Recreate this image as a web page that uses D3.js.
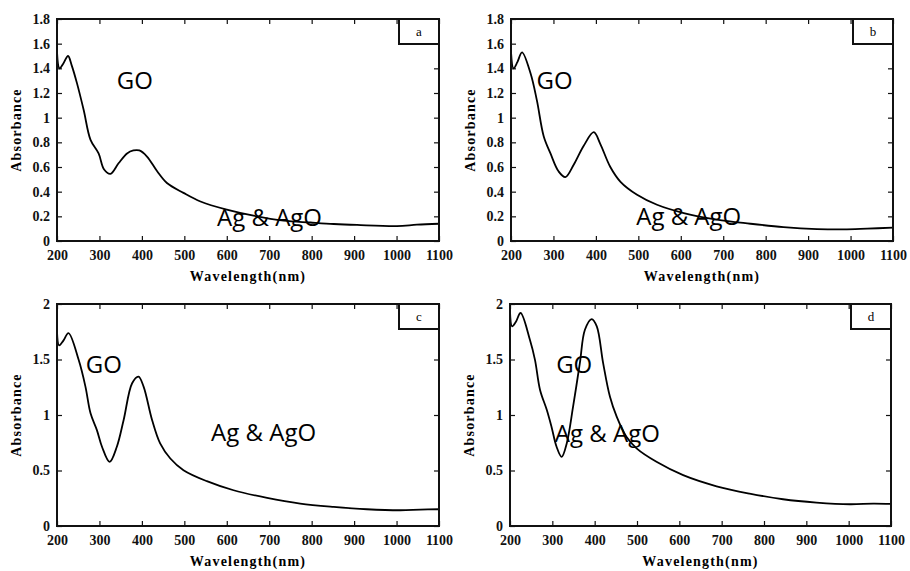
<!DOCTYPE html>
<html>
<head>
<meta charset="utf-8">
<script src="https://cdn.jsdelivr.net/npm/d3@7"></script>
<style>
  body { margin: 0; background: #fff; }
  svg { display: block; }
</style>
</head>
<body>
<div id="chart"></div>
<script>
// x axis ticks shared by all four panels
const xTicks = [200, 300, 400, 500, 600, 700, 800, 900, 1000, 1100];
const yTicksAB = [0, 0.2, 0.4, 0.6, 0.8, 1, 1.2, 1.4, 1.6, 1.8];
const yTicksCD = [0, 0.5, 1, 1.5, 2];

// spectra (wavelength nm, absorbance)
const waveA = [200, 206, 215, 226, 235, 247, 263, 279, 298, 311, 326, 345, 365, 380, 394, 412, 436, 459, 498, 538, 600, 663, 734, 797, 852, 907, 1001, 1048, 1100];
const absA  = [1.535, 1.40, 1.44, 1.50, 1.42, 1.28, 1.06, 0.82, 0.71, 0.58, 0.545, 0.63, 0.71, 0.734, 0.734, 0.685, 0.565, 0.47, 0.39, 0.32, 0.254, 0.205, 0.165, 0.15, 0.138, 0.13, 0.121, 0.132, 0.14];

const waveB = [200, 206, 215, 226, 246, 261, 277, 293, 312, 328, 348, 371, 395, 410, 434, 458, 497, 544, 607, 685, 764, 842, 921, 984, 1039, 1100];
const absB  = [1.535, 1.40, 1.45, 1.53, 1.36, 1.14, 0.85, 0.71, 0.565, 0.518, 0.62, 0.77, 0.882, 0.79, 0.60, 0.48, 0.375, 0.294, 0.227, 0.173, 0.14, 0.113, 0.097, 0.094, 0.10, 0.108];

const waveC = [200, 205, 215, 227, 251, 267, 279, 294, 306, 324, 341, 357, 377, 392, 404, 424, 443, 467, 498, 553, 616, 695, 773, 852, 930, 1009, 1056, 1100];
const absC  = [1.753, 1.627, 1.67, 1.738, 1.497, 1.256, 1.015, 0.864, 0.714, 0.578, 0.714, 0.955, 1.286, 1.346, 1.256, 0.955, 0.744, 0.608, 0.503, 0.404, 0.322, 0.253, 0.202, 0.172, 0.151, 0.142, 0.148, 0.151];

const waveD = [200, 205, 214, 225, 247, 259, 271, 287, 298, 310, 322, 334, 349, 365, 377, 393, 405, 420, 436, 452, 475, 499, 546, 609, 688, 766, 845, 924, 1003, 1058, 1100];
const absD  = [1.934, 1.798, 1.84, 1.919, 1.678, 1.497, 1.226, 1.045, 0.895, 0.714, 0.623, 0.744, 1.075, 1.467, 1.768, 1.864, 1.798, 1.467, 1.166, 0.985, 0.804, 0.699, 0.578, 0.458, 0.358, 0.292, 0.241, 0.211, 0.196, 0.202, 0.199];

// annotation text anchors in data units (left edge, baseline)
const notesA = [{ text: "GO", w: 341, a: 1.233 }, { text: "Ag & AgO", w: 577, a: 0.124 }];
const notesB = [{ text: "GO", w: 260, a: 1.233 }, { text: "Ag & AgO", w: 495, a: 0.132 }];
const notesC = [{ text: "GO", w: 268, a: 1.379 }, { text: "Ag & AgO", w: 563, a: 0.765 }];
const notesD = [{ text: "GO", w: 309, a: 1.379 }, { text: "Ag & AgO", w: 306, a: 0.756 }];

const width = 910, height = 571;
const serif = "'Liberation Serif', 'Times New Roman', 'DejaVu Serif', serif";

const svg = d3.select("#chart").append("svg")
    .attr("width", width)
    .attr("height", height);

// plot boxes in page pixels
const panels = [
    { tag: "a", x0: 57,  x1: 439, y0: 19,  y1: 241, yMax: 1.8, yTicks: yTicksAB, wave: waveA, abs: absA, notes: notesA },
    { tag: "b", x0: 511, x1: 893, y0: 19,  y1: 241, yMax: 1.8, yTicks: yTicksAB, wave: waveB, abs: absB, notes: notesB },
    { tag: "c", x0: 57,  x1: 439, y0: 304, y1: 526, yMax: 2,   yTicks: yTicksCD, wave: waveC, abs: absC, notes: notesC },
    { tag: "d", x0: 510, x1: 891, y0: 304, y1: 526, yMax: 2,   yTicks: yTicksCD, wave: waveD, abs: absD, notes: notesD }
];

panels.forEach(drawPanel);

function styleLabels(a) {
    a.selectAll("text")
        .attr("fill", "#111")
        .style("font-family", serif)
        .style("font-weight", "bold")
        .style("font-size", "14px");
}

function drawPanel(p) {
    const x = d3.scaleLinear().domain([200, 1100]).range([p.x0, p.x1]);
    const y = d3.scaleLinear().domain([0, p.yMax]).range([p.y1, p.y0]);
    const g = svg.append("g");
    const tickLen = 5;

    // bottom axis labels + inward ticks (bottom and top)
    const fmt = d => String(+d.toFixed(1));
    g.append("g")
        .attr("transform", `translate(0,${p.y1})`)
        .call(d3.axisBottom(x).tickValues(xTicks).tickSize(-tickLen).tickPadding(9).tickFormat(fmt))
        .call(a => a.select(".domain").remove())
        .call(styleLabels);
    g.append("g")
        .attr("transform", `translate(0,${p.y0})`)
        .call(d3.axisTop(x).tickValues(xTicks).tickSize(-tickLen).tickFormat(""))
        .call(a => a.select(".domain").remove());

    // left axis labels + inward ticks (left and right)
    g.append("g")
        .attr("transform", `translate(${p.x0},0)`)
        .call(d3.axisLeft(y).tickValues(p.yTicks).tickSize(-tickLen).tickPadding(7).tickFormat(fmt))
        .call(a => a.select(".domain").remove())
        .call(styleLabels);
    g.append("g")
        .attr("transform", `translate(${p.x1},0)`)
        .call(d3.axisRight(y).tickValues(p.yTicks).tickSize(-tickLen).tickFormat(""))
        .call(a => a.select(".domain").remove());

    g.selectAll(".tick line").attr("stroke", "#111").attr("stroke-width", 1.2);

    // spectrum
    const pts = p.wave.map((w, i) => [w, p.abs[i]]);
    g.append("path")
        .datum(pts)
        .attr("fill", "none")
        .attr("stroke", "#000")
        .attr("stroke-width", 1.8)
        .attr("d", d3.line().x(d => x(d[0])).y(d => y(d[1])).curve(d3.curveCatmullRom.alpha(0.5)));

    // frame
    g.append("rect")
        .attr("x", p.x0).attr("y", p.y0)
        .attr("width", p.x1 - p.x0).attr("height", p.y1 - p.y0)
        .attr("fill", "none").attr("stroke", "#111").attr("stroke-width", 2);

    // panel tag box, top right
    const bw = 40, bh = 25;
    g.append("rect")
        .attr("x", p.x1 - bw).attr("y", p.y0)
        .attr("width", bw).attr("height", bh)
        .attr("fill", "#fff").attr("stroke", "#111").attr("stroke-width", 2);
    g.append("text")
        .attr("x", p.x1 - bw / 2).attr("y", p.y0 + bh / 2 + 4)
        .attr("text-anchor", "middle")
        .style("font-family", serif)
        .style("font-size", "13px")
        .text(p.tag);

    // axis titles
    g.append("text")
        .attr("text-anchor", "middle")
        .attr("x", (p.x0 + p.x1) / 2).attr("y", p.y1 + 40)
        .style("font-family", serif).style("font-weight", "bold")
        .style("font-size", "14px").style("letter-spacing", "1.2px")
        .text("Wavelength(nm)");
    g.append("text")
        .attr("text-anchor", "middle")
        .attr("transform", `translate(${p.x0 - 36},${(p.y0 + p.y1) / 2}) rotate(-90)`)
        .style("font-family", serif).style("font-weight", "bold")
        .style("font-size", "14px").style("letter-spacing", "1.2px")
        .text("Absorbance");

    // GO / Ag & AgO annotations
    g.selectAll("text.note")
        .data(p.notes)
        .join("text")
        .attr("class", "note")
        .attr("x", d => x(d.w)).attr("y", d => y(d.a))
        .style("font-family", "'Open Sans', 'Noto Sans', sans-serif")
        .style("font-size", "24px")
        .text(d => d.text);
}
</script>
</body>
</html>
